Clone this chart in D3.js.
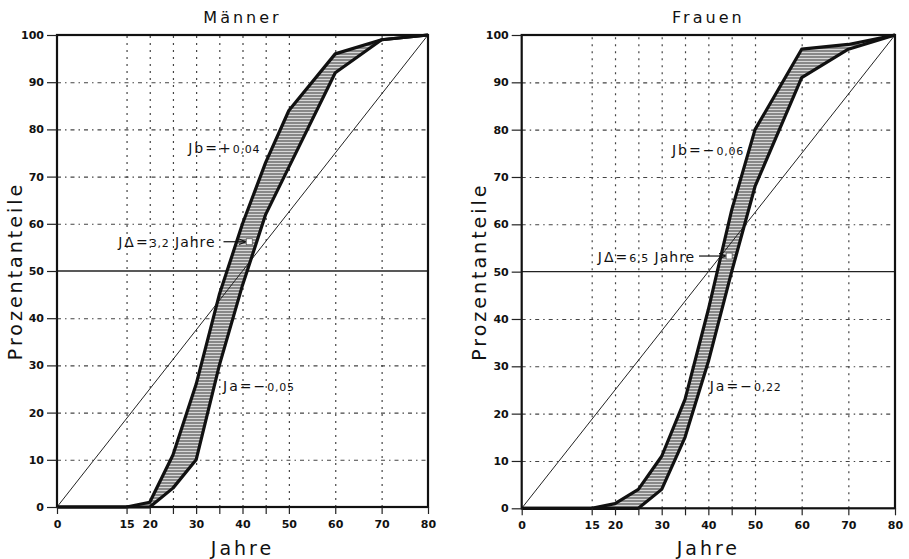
<!DOCTYPE html>
<html>
<head>
<meta charset="utf-8">
<script src="https://cdn.jsdelivr.net/npm/d3@7"></script>
<style>
body { margin: 0; background: #fff; }
svg { font-family: "DejaVu Sans", sans-serif; }
</style>
</head>
<body>
<svg id="chart" width="909" height="559"></svg>
<script>
// Werte (Jahre / Prozentanteile)
var ages       = [0, 15, 20, 25, 30, 35, 40, 45, 50, 60, 70, 80];
var menUpper   = [0, 0, 1, 11, 26, 45, 60, 73, 84, 96, 99, 100];
var menLower   = [0, 0, 0, 4, 10, 30, 47, 62, 72, 92, 99, 100];
var womenUpper = [0, 0, 1, 4, 11, 23, 42, 63, 80, 97, 98, 100];
var womenLower = [0, 0, 0, 0, 4, 15, 31, 50, 68, 91, 97, 100];
var diagonal   = [[0, 0], [80, 100]];

var xTicks      = [0, 15, 20, 25, 30, 35, 40, 45, 50, 60, 70, 80];
var xTickLabels = ["0", "15", "20", "", "30", "", "40", "", "50", "60", "70", "80"];
var yTicks      = [0, 10, 20, 30, 40, 50, 60, 70, 80, 90, 100];
var xGrid       = [15, 20, 25, 30, 35, 40, 45, 50, 60, 70];
var yGrid       = [10, 20, 30, 40, 60, 70, 80, 90];

var titles = ["Männer", "Frauen"];
var menNotes = [
    { big: "Jb=+", small: "0,04", tail: "" },
    { big: "JΔ=", small: "3,2", tail: " Jahre" },
    { big: "Ja=−", small: "0,05", tail: "" }
];
var womenNotes = [
    { big: "Jb=−", small: "0,06", tail: "" },
    { big: "JΔ=", small: "6,5", tail: " Jahre" },
    { big: "Ja=−", small: "0,22", tail: "" }
];

// Layout der beiden Felder
var panels = [
    { title: titles[0], upper: menUpper, lower: menLower, notes: menNotes,
      left: 57, right: 428, top: 35, bottom: 507, ylab: 15,
      notePos: [[28.3, 75], [13.2, 55], [35.8, 24.6]],
      arrow: [[35.9, 56.2], [40.6, 56.2]] },
    { title: titles[1], upper: womenUpper, lower: womenLower, notes: womenNotes,
      left: 521.7, right: 895, top: 35, bottom: 508.3, ylab: 479,
      notePos: [[32.2, 74.6], [16.3, 52], [40.3, 24.8]],
      arrow: [[38.0, 53.3], [43.6, 53.3]] }
];

var svg = d3.select("#chart");
var defs = svg.append("defs");

var pat = defs.append("pattern")
    .attr("id", "hatch")
    .attr("patternUnits", "userSpaceOnUse")
    .attr("width", 6).attr("height", 3);
pat.append("rect").attr("width", 6).attr("height", 3).attr("fill", "#888");
pat.append("rect").attr("y", 1).attr("width", 6).attr("height", 1).attr("fill", "#d8d8d8");

defs.append("marker")
    .attr("id", "arrowhead")
    .attr("viewBox", "0 0 10 10")
    .attr("refX", 9).attr("refY", 5)
    .attr("markerWidth", 7).attr("markerHeight", 7)
    .attr("markerUnits", "userSpaceOnUse")
    .attr("orient", "auto")
  .append("path")
    .attr("d", "M0,1 L10,5 L0,9")
    .attr("fill", "none")
    .attr("stroke", "#111")
    .attr("stroke-width", 1.6);

function drawPanel(p) {
    var x = d3.scaleLinear().domain([0, 80]).range([p.left, p.right]);
    var y = d3.scaleLinear().domain([0, 100]).range([p.bottom, p.top]);
    var h = p.bottom - p.top;
    var w = p.right - p.left;
    var g = svg.append("g");

    // Gitter senkrecht
    g.append("g")
        .attr("transform", "translate(0," + p.bottom + ")")
        .call(d3.axisBottom(x).tickValues(xGrid).tickSize(-h).tickFormat(""))
        .call(function(s) { s.select(".domain").remove(); })
        .selectAll("line")
            .attr("stroke", "#444")
            .attr("stroke-width", 1.2)
            .attr("stroke-dasharray", "2,5");

    // Gitter waagerecht
    g.append("g")
        .attr("transform", "translate(" + p.left + ",0)")
        .call(d3.axisLeft(y).tickValues(yGrid).tickSize(-w).tickFormat(""))
        .call(function(s) { s.select(".domain").remove(); })
        .selectAll("line")
            .attr("stroke", "#444")
            .attr("stroke-width", 1.1)
            .attr("stroke-dasharray", "4,4,1.5,4");

    // 50 %-Linie
    g.append("line")
        .attr("x1", x(0)).attr("x2", x(80))
        .attr("y1", y(50)).attr("y2", y(50))
        .attr("stroke", "#222").attr("stroke-width", 1.3);

    var line = d3.line()
        .x(function(d) { return x(d[0]); })
        .y(function(d) { return y(d[1]); });

    var up = ages.map(function(a, i) { return [a, p.upper[i]]; });
    var lo = ages.map(function(a, i) { return [a, p.lower[i]]; });

    // schraffiertes Band
    g.append("path")
        .attr("d", line(up.concat(lo.slice().reverse())) + "Z")
        .attr("fill", "url(#hatch)")
        .attr("stroke", "none");

    // Diagonale
    g.append("path")
        .attr("d", line(diagonal))
        .attr("fill", "none")
        .attr("stroke", "#222")
        .attr("stroke-width", 1);

    [up, lo].forEach(function(c) {
        g.append("path")
            .attr("d", line(c))
            .attr("fill", "none")
            .attr("stroke", "#111")
            .attr("stroke-width", 3.2)
            .attr("stroke-linejoin", "round");
    });

    // Rahmen
    g.append("rect")
        .attr("x", p.left).attr("y", p.top)
        .attr("width", w).attr("height", h)
        .attr("fill", "none")
        .attr("stroke", "#111")
        .attr("stroke-width", 2.2);

    // Achsen
    var ya = g.append("g")
        .attr("transform", "translate(" + p.left + ",0)")
        .call(d3.axisLeft(y).tickValues(yTicks).tickSize(10).tickPadding(3));
    var xa = g.append("g")
        .attr("transform", "translate(0," + p.bottom + ")")
        .call(d3.axisBottom(x).tickValues(xTicks).tickSize(7).tickPadding(6)
            .tickFormat(function(d, i) { return xTickLabels[i]; }));
    [ya, xa].forEach(function(a) {
        a.select(".domain").remove();
        a.selectAll("line").attr("stroke", "#222").attr("stroke-width", 1.2);
        a.selectAll("text")
            .attr("fill", "#111")
            .style("font-family", "'DejaVu Sans', sans-serif")
            .style("font-size", "11px")
            .style("font-weight", "bold");
    });

    // Titel und Achsentitel
    g.append("text")
        .attr("x", (p.left + p.right) / 2).attr("y", 23)
        .attr("text-anchor", "middle")
        .style("font-size", "16px")
        .style("letter-spacing", "3px")
        .attr("fill", "#111")
        .text(p.title);
    g.append("text")
        .attr("x", (p.left + p.right) / 2).attr("y", 555)
        .attr("text-anchor", "middle")
        .style("font-size", "19px")
        .style("letter-spacing", "3px")
        .attr("fill", "#111")
        .text("Jahre");
    g.append("text")
        .attr("transform", "translate(" + p.ylab + "," + ((p.top + p.bottom) / 2) + ") rotate(-90)")
        .attr("text-anchor", "middle")
        .attr("dy", "0.35em")
        .style("font-size", "19px")
        .style("letter-spacing", "3px")
        .attr("fill", "#111")
        .text("Prozentanteile");

    // Beschriftungen im Feld
    p.notes.forEach(function(n, i) {
        var t = g.append("text")
            .attr("x", x(p.notePos[i][0]))
            .attr("y", y(p.notePos[i][1]))
            .attr("fill", "#111")
            .style("font-size", "14px")
            .style("letter-spacing", "2px");
        t.append("tspan").text(n.big);
        t.append("tspan").style("font-size", "11px").style("letter-spacing", "0.8px").text(n.small);
        if (n.tail) t.append("tspan").style("letter-spacing", "1px").text(n.tail);
    });

    var a0 = p.arrow[0], a1 = p.arrow[1];
    g.append("line")
        .attr("x1", x(a0[0])).attr("y1", y(a0[1]))
        .attr("x2", x(a1[0])).attr("y2", y(a1[1]))
        .attr("stroke", "#111").attr("stroke-width", 1.2)
        .attr("marker-end", "url(#arrowhead)");
    g.append("rect")
        .attr("x", x(a1[0]) + 1).attr("y", y(a1[1]) - 3)
        .attr("width", 6).attr("height", 6)
        .attr("fill", "#fff").attr("stroke", "#555").attr("stroke-width", 0.8);
}

panels.forEach(drawPanel);
</script>
</body>
</html>
